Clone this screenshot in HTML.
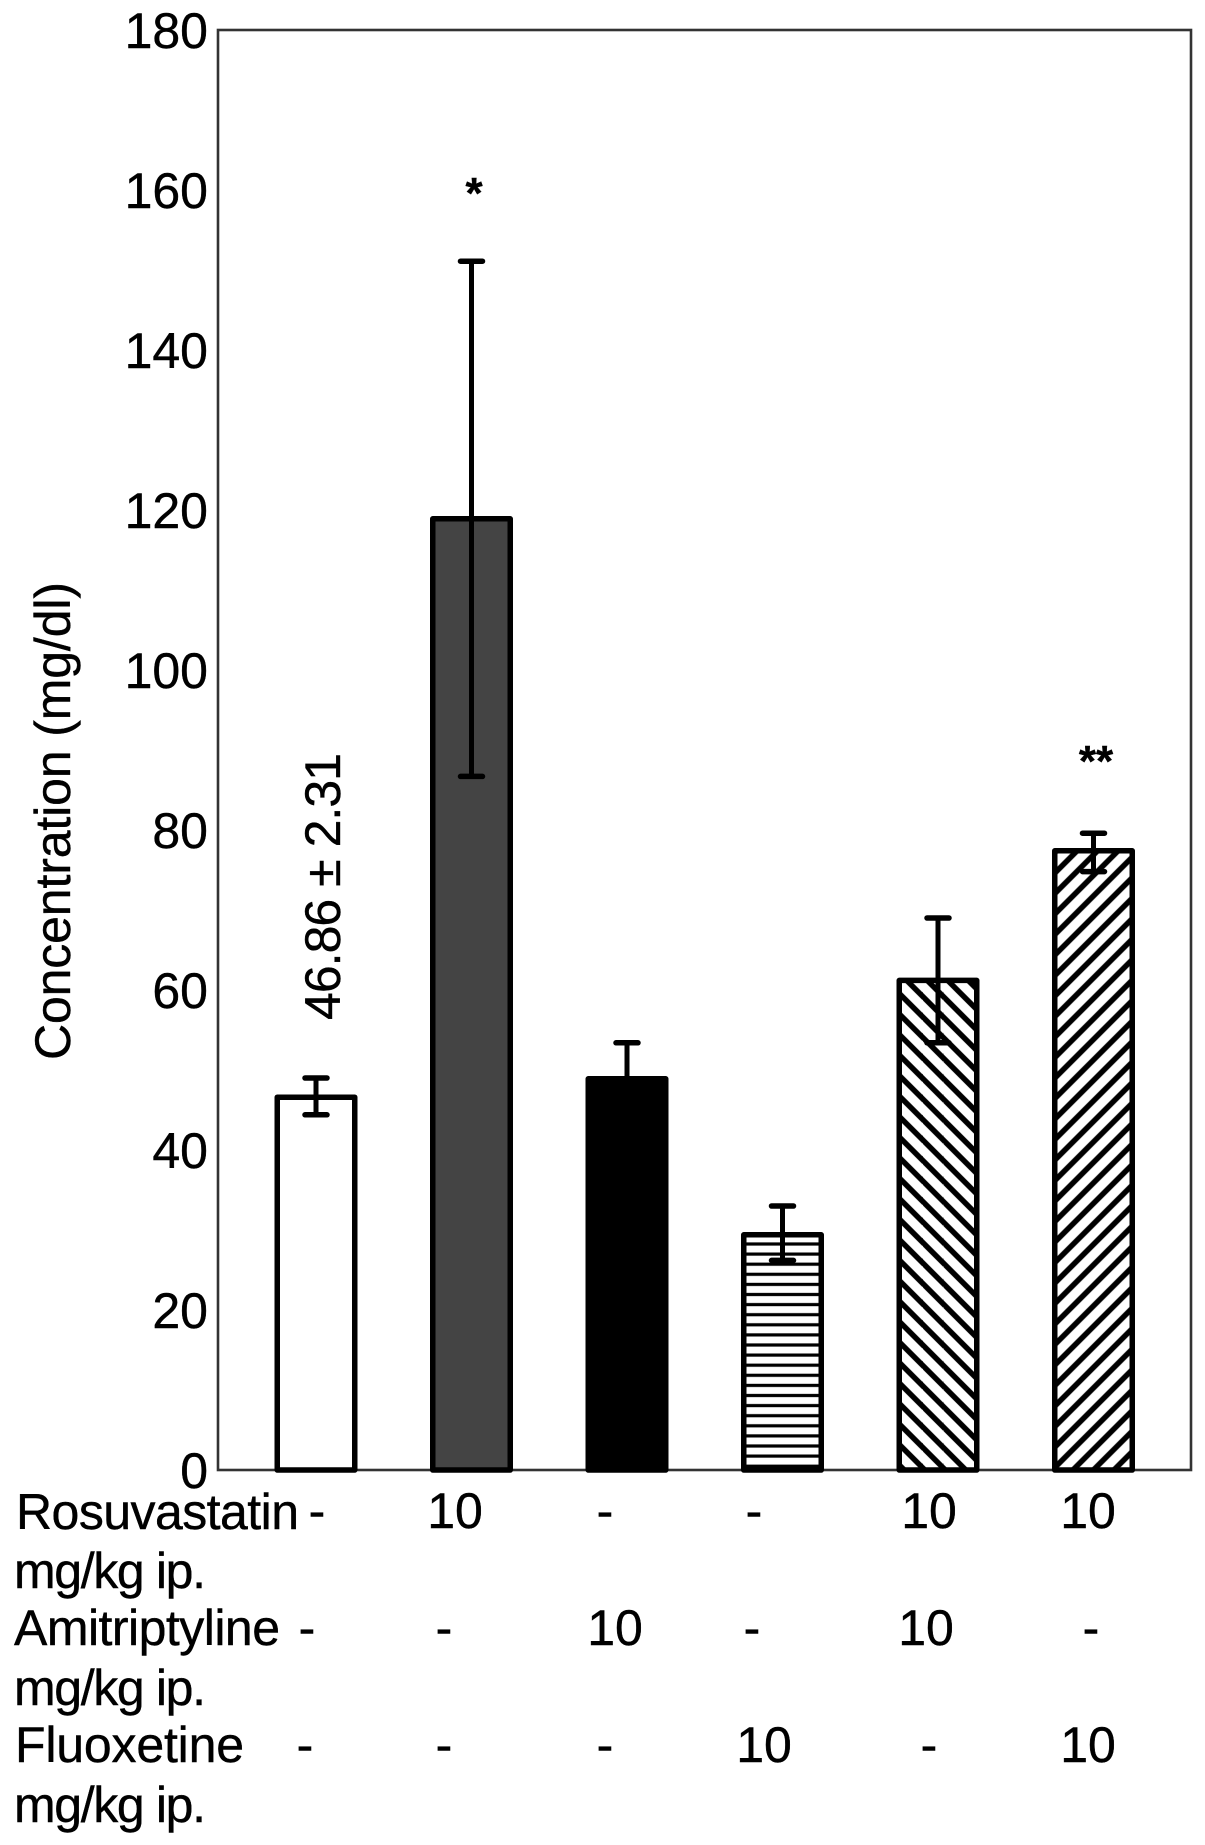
<!DOCTYPE html>
<html lang="en">
<head>
<meta charset="utf-8">
<title>Concentration bar chart</title>
<style>
  html, body { margin: 0; padding: 0; background: #fff; }
  svg { display: block; }
  text { font-family: "Liberation Sans", Arial, sans-serif; fill: #000; stroke: #000; stroke-width: 0.4px; }
</style>
</head>
<body>
<svg id="chart" xmlns="http://www.w3.org/2000/svg" width="1205" height="1845" viewBox="0 0 1205 1845">
  <defs>
    <pattern id="hatch-horizontal" patternUnits="userSpaceOnUse" width="40" height="10.1" patternTransform="translate(0 1274.3)">
      <rect x="0" y="-1.6" width="40" height="3.2" fill="#000"></rect>
      <rect x="0" y="8.5" width="40" height="3.2" fill="#000"></rect>
    </pattern>
    <pattern id="hatch-back" patternUnits="userSpaceOnUse" width="20.5" height="20.5" patternTransform="translate(902 1221.7)">
      <path d="M-5 -5L25.5 25.5M-5 15.5L5 25.5M15.5 -5L25.5 5" stroke="#000" stroke-width="5.5" fill="none"></path>
    </pattern>
    <pattern id="hatch-forward" patternUnits="userSpaceOnUse" width="20.5" height="20.5" patternTransform="translate(1131.7 1226.7)">
      <path d="M25.5 -5L-5 25.5M5 -5L-5 5M25.5 15.5L15.5 25.5" stroke="#000" stroke-width="5.5" fill="none"></path>
    </pattern>
  </defs>

  <rect x="218" y="30" width="973" height="1440" fill="#fff" stroke="#333" stroke-width="2.6"></rect>

  <g id="y-ticks"></g>
  <g id="bars"></g>
  <g id="errors"></g>

  <text transform="translate(70 1060) rotate(-90)" font-size="50" textLength="478" lengthAdjust="spacing">Concentration (mg/dl)</text>
  <text transform="translate(340 1020) rotate(-90)" font-size="50" textLength="267" lengthAdjust="spacing">46.86 ± 2.31</text>
  <text x="474" y="208" font-size="44" font-weight="bold" text-anchor="middle">*</text>
  <text x="1096" y="776" font-size="44" font-weight="bold" text-anchor="middle">**</text>

  <g font-size="50">
    <text x="16" y="1529" textLength="283" lengthAdjust="spacing">Rosuvastatin</text>
    <text x="14" y="1588" textLength="192" lengthAdjust="spacing">mg/kg ip.</text>
    <text x="317" y="1528" text-anchor="middle">-</text>
    <text x="455" y="1528" text-anchor="middle">10</text>
    <text x="605" y="1528" text-anchor="middle">-</text>
    <text x="754" y="1528" text-anchor="middle">-</text>
    <text x="929" y="1528" text-anchor="middle">10</text>
    <text x="1088" y="1528" text-anchor="middle">10</text>
  </g>
  <g font-size="50">
    <text x="14" y="1645" textLength="266" lengthAdjust="spacing">Amitriptyline</text>
    <text x="14" y="1705" textLength="192" lengthAdjust="spacing">mg/kg ip.</text>
    <text x="307" y="1645" text-anchor="middle">-</text>
    <text x="444" y="1645" text-anchor="middle">-</text>
    <text x="615" y="1645" text-anchor="middle">10</text>
    <text x="752" y="1645" text-anchor="middle">-</text>
    <text x="926" y="1645" text-anchor="middle">10</text>
    <text x="1091" y="1645" text-anchor="middle">-</text>
  </g>
  <g font-size="50">
    <text x="15" y="1762" textLength="229" lengthAdjust="spacing">Fluoxetine</text>
    <text x="14" y="1822" textLength="192" lengthAdjust="spacing">mg/kg ip.</text>
    <text x="305" y="1762" text-anchor="middle">-</text>
    <text x="444" y="1762" text-anchor="middle">-</text>
    <text x="605" y="1762" text-anchor="middle">-</text>
    <text x="764" y="1762" text-anchor="middle">10</text>
    <text x="929" y="1762" text-anchor="middle">-</text>
    <text x="1088" y="1762" text-anchor="middle">10</text>
  </g>
</svg>
<script>
const categories = ['control', 'rosuvastatin', 'amitriptyline', 'fluoxetine', 'rosuvastatin-amitriptyline', 'rosuvastatin-fluoxetine'];
const means = [46.6, 118.9, 48.9, 29.4, 61.2, 77.4];
const errorUpper = [49.0, 151.1, 53.4, 33.0, 69.0, 79.6];
const errorLower = [44.4, 86.7, 44.8, 26.2, 53.4, 74.8];
const fills = ['#fff', '#444', '#000', 'url(#hatch-horizontal)', 'url(#hatch-back)', 'url(#hatch-forward)'];
const tickLabels = [0, 20, 40, 60, 80, 100, 120, 140, 160, 180];

const NS = 'http://www.w3.org/2000/svg';
const yScale = function (v) { return 1470 - v * 8; };
const xScale = function (i) { return 316 + i * 155.5; };
const BAR_WIDTH = 82;
const STROKE = 5.5;
const CAP = 26;

const tickGroup = document.getElementById('y-ticks');
tickLabels.forEach(function (t) {
  const el = document.createElementNS(NS, 'text');
  
  
  el.setAttribute('x', 208);
  el.setAttribute('y', yScale(t) + 18);
  el.setAttribute('font-size', 50);
  el.setAttribute('text-anchor', 'end');
  el.textContent = t;
  tickGroup.appendChild(el);
});

const barGroup = document.getElementById('bars');
const errGroup = document.getElementById('errors');

function line(x1, y1, x2, y2, w) {
  const l = document.createElementNS(NS, 'line');
  l.setAttribute('x1', x1);
  l.setAttribute('y1', y1);
  l.setAttribute('x2', x2);
  l.setAttribute('y2', y2);
  l.setAttribute('stroke', '#000');
  l.setAttribute('stroke-width', w);
  l.setAttribute('stroke-linecap', 'round');
  return l;
}

categories.forEach(function (c, i) {
  const cx = xScale(i);
  const rect = document.createElementNS(NS, 'rect');
  
  
  rect.setAttribute('x', cx - BAR_WIDTH / 2 + STROKE / 2 - 0.5);
  rect.setAttribute('y', yScale(means[i]));
  rect.setAttribute('width', BAR_WIDTH - STROKE + 1);
  rect.setAttribute('height', yScale(0) - yScale(means[i]));
  rect.setAttribute('fill', fills[i]);
  rect.setAttribute('stroke', '#000');
  rect.setAttribute('stroke-width', STROKE);
  rect.setAttribute('stroke-linejoin', 'round');
  barGroup.appendChild(rect);

  const g = document.createElementNS(NS, 'g');
  
  
  g.appendChild(line(cx, yScale(errorUpper[i]), cx, yScale(errorLower[i]), 5));
  g.appendChild(line(cx - CAP / 2 + 2, yScale(errorUpper[i]), cx + CAP / 2 - 2, yScale(errorUpper[i]), 5.5));
  g.appendChild(line(cx - CAP / 2 + 2, yScale(errorLower[i]), cx + CAP / 2 - 2, yScale(errorLower[i]), 5.5));
  errGroup.appendChild(g);
});
</script>
</body>
</html>
